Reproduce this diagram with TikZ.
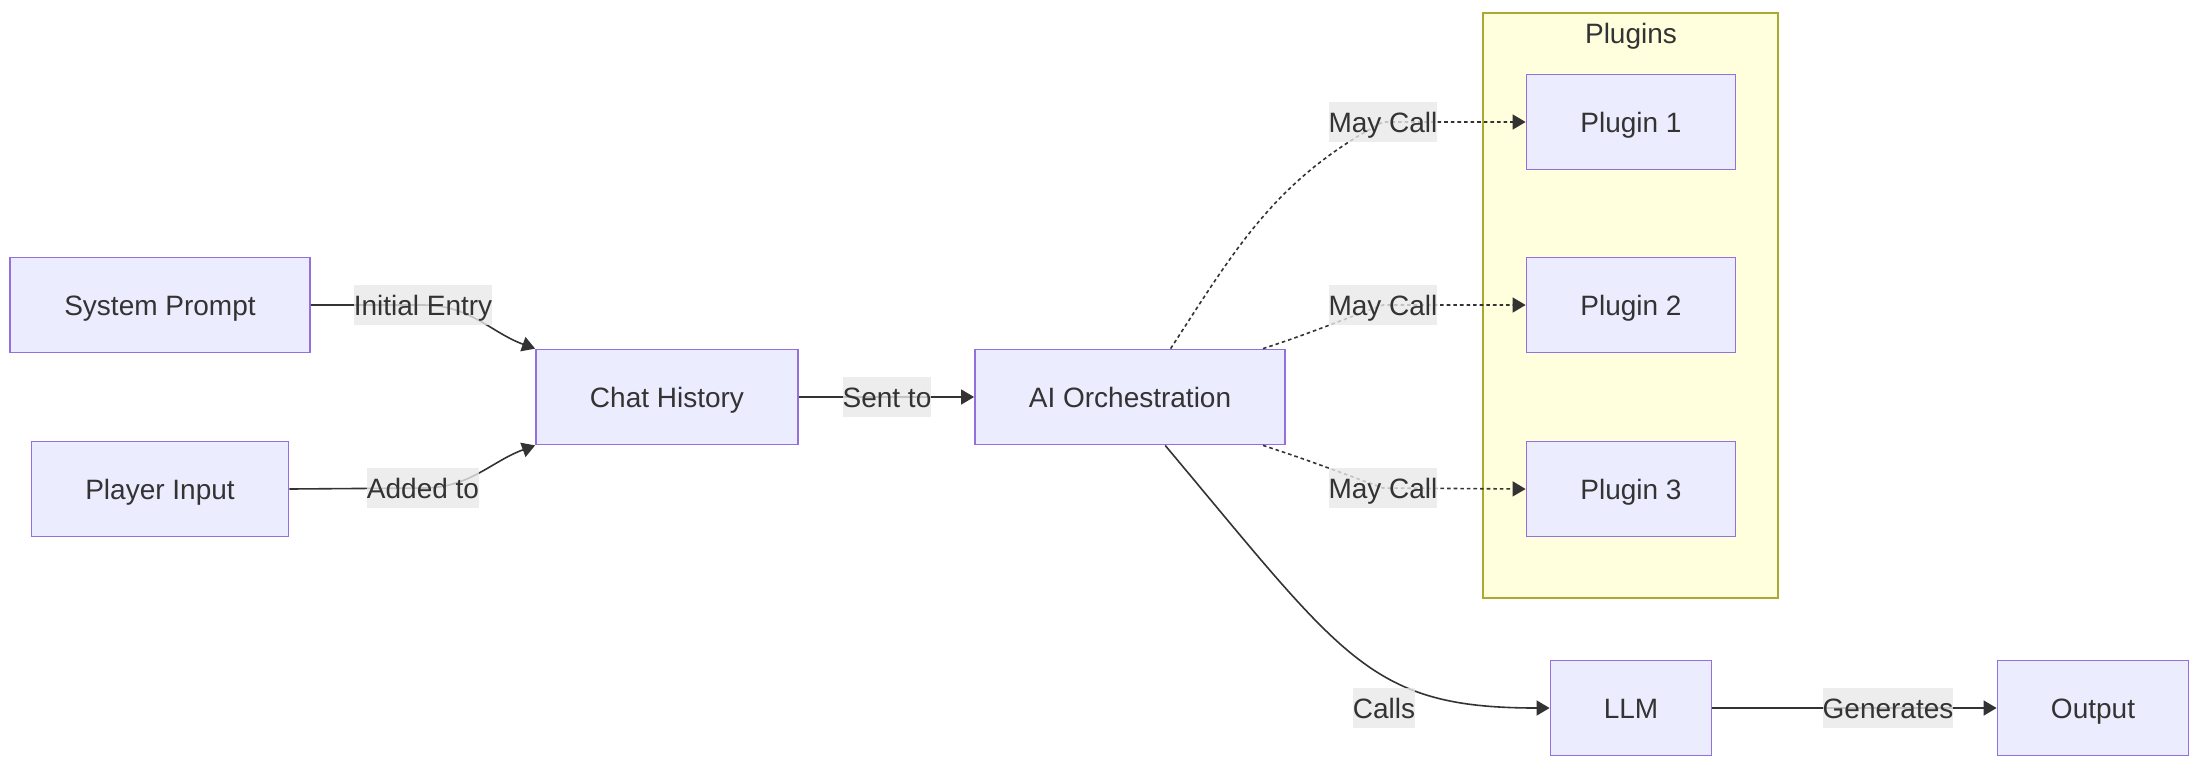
\documentclass[tikz,border=0pt]{standalone}
\usepackage{fontspec}
\setmainfont{Liberation Sans}
\usetikzlibrary{arrows.meta}

\definecolor{boxfill}{HTML}{ECECFF}
\definecolor{boxline}{HTML}{9370DB}
\definecolor{grpfill}{HTML}{FFFFDE}
\definecolor{grpline}{HTML}{AAAA33}
\definecolor{lblfill}{HTML}{E8E8E8}
\definecolor{ink}{HTML}{333333}

\tikzset{
  txt/.style={text=ink, font=\fontsize{14}{17}\selectfont,
    text height=10.2pt, text depth=0pt},
  box/.style={txt, draw=boxline, fill=boxfill, line width=0.9pt,
    minimum height=47.5pt, inner sep=0pt},
  group/.style={draw=grpline, fill=grpfill, line width=0.9pt, inner sep=0pt},
  lbl/.style={txt, fill=lblfill, fill opacity=0.8, text opacity=1,
    inner xsep=0pt, inner ysep=0pt, minimum height=20pt},
  flow/.style={draw=ink, line width=0.8pt, -{Triangle[length=6.5pt,width=7.5pt]}},
  dotflow/.style={flow, dash pattern=on 1.8pt off 1.5pt},
}

\begin{document}
\begin{tikzpicture}[x=0.5pt, y=-0.5pt]

\useasboundingbox (0,0) rectangle (2206,768);

% plugin group in the back
\node[group, minimum width=147.5pt, minimum height=292.5pt] (plugins) at (1630.5,305.5) {};
\node[txt] (ptitle) at (1631,33) {Plugins};

% boxes
\node[box, minimum width=150pt]   (sp)  at (160,305)  {System Prompt};
\node[box, minimum width=128.5pt] (pi)  at (160,489)  {Player Input};
\node[box, minimum width=131pt]   (ch)  at (667,397)  {Chat History};
\node[box, minimum width=155pt]   (ai)  at (1130,397) {AI Orchestration};
\node[box, minimum width=104.5pt] (p1)  at (1631,122) {Plugin 1};
\node[box, minimum width=104.5pt] (p2)  at (1631,305) {Plugin 2};
\node[box, minimum width=104.5pt] (p3)  at (1631,489) {Plugin 3};
\node[box, minimum width=80.5pt]  (llm) at (1631,708) {LLM};
\node[box, minimum width=95.5pt]  (out) at (2093,708) {Output};

% label spots on the edges
\coordinate (ie)  at (423,305);
\coordinate (at)  at (423,488);
\coordinate (st)  at (887,397);
\coordinate (mc1) at (1383,122);
\coordinate (mc2) at (1383,305);
\coordinate (mc3) at (1383,488);
\coordinate (cl)  at (1384,708);
\coordinate (gen) at (1888,708);

% edges
\draw[flow] (sp.east) -- (ie) to[out=0,in=160] (ch.north west);
\draw[flow] (pi.east) -- (at) to[out=0,in=200] (ch.south west);
\draw[flow] (ch.east) -- (ai.west);
\draw[dotflow] (ai.50) to[out=57,in=208] (mc1) -- (p1.west);
\draw[dotflow] (ai.20) to[out=18,in=200] (mc2) -- (p2.west);
\draw[dotflow] (ai.-20) to[out=-18,in=160] (mc3) -- (p3.west);
\draw[flow] (ai.-54) to[out=-50,in=180,out distance=140pt,in distance=90pt] (llm.west);
\draw[flow] (llm.east) -- (out.west);

% edge labels
\node[lbl] (ie-l)  at (ie)  {Initial Entry};
\node[lbl] (at-l)  at (at)  {Added to};
\node[lbl] (st-l)  at (st)  {Sent to};
\node[lbl] (mc1-l) at (mc1) {May Call};
\node[lbl] (mc2-l) at (mc2) {May Call};
\node[lbl] (mc3-l) at (mc3) {May Call};
\node[lbl] (cl-l)  at (cl)  {Calls};
\node[lbl] (gen-l) at (gen) {Generates};

\end{tikzpicture}
\end{document}
